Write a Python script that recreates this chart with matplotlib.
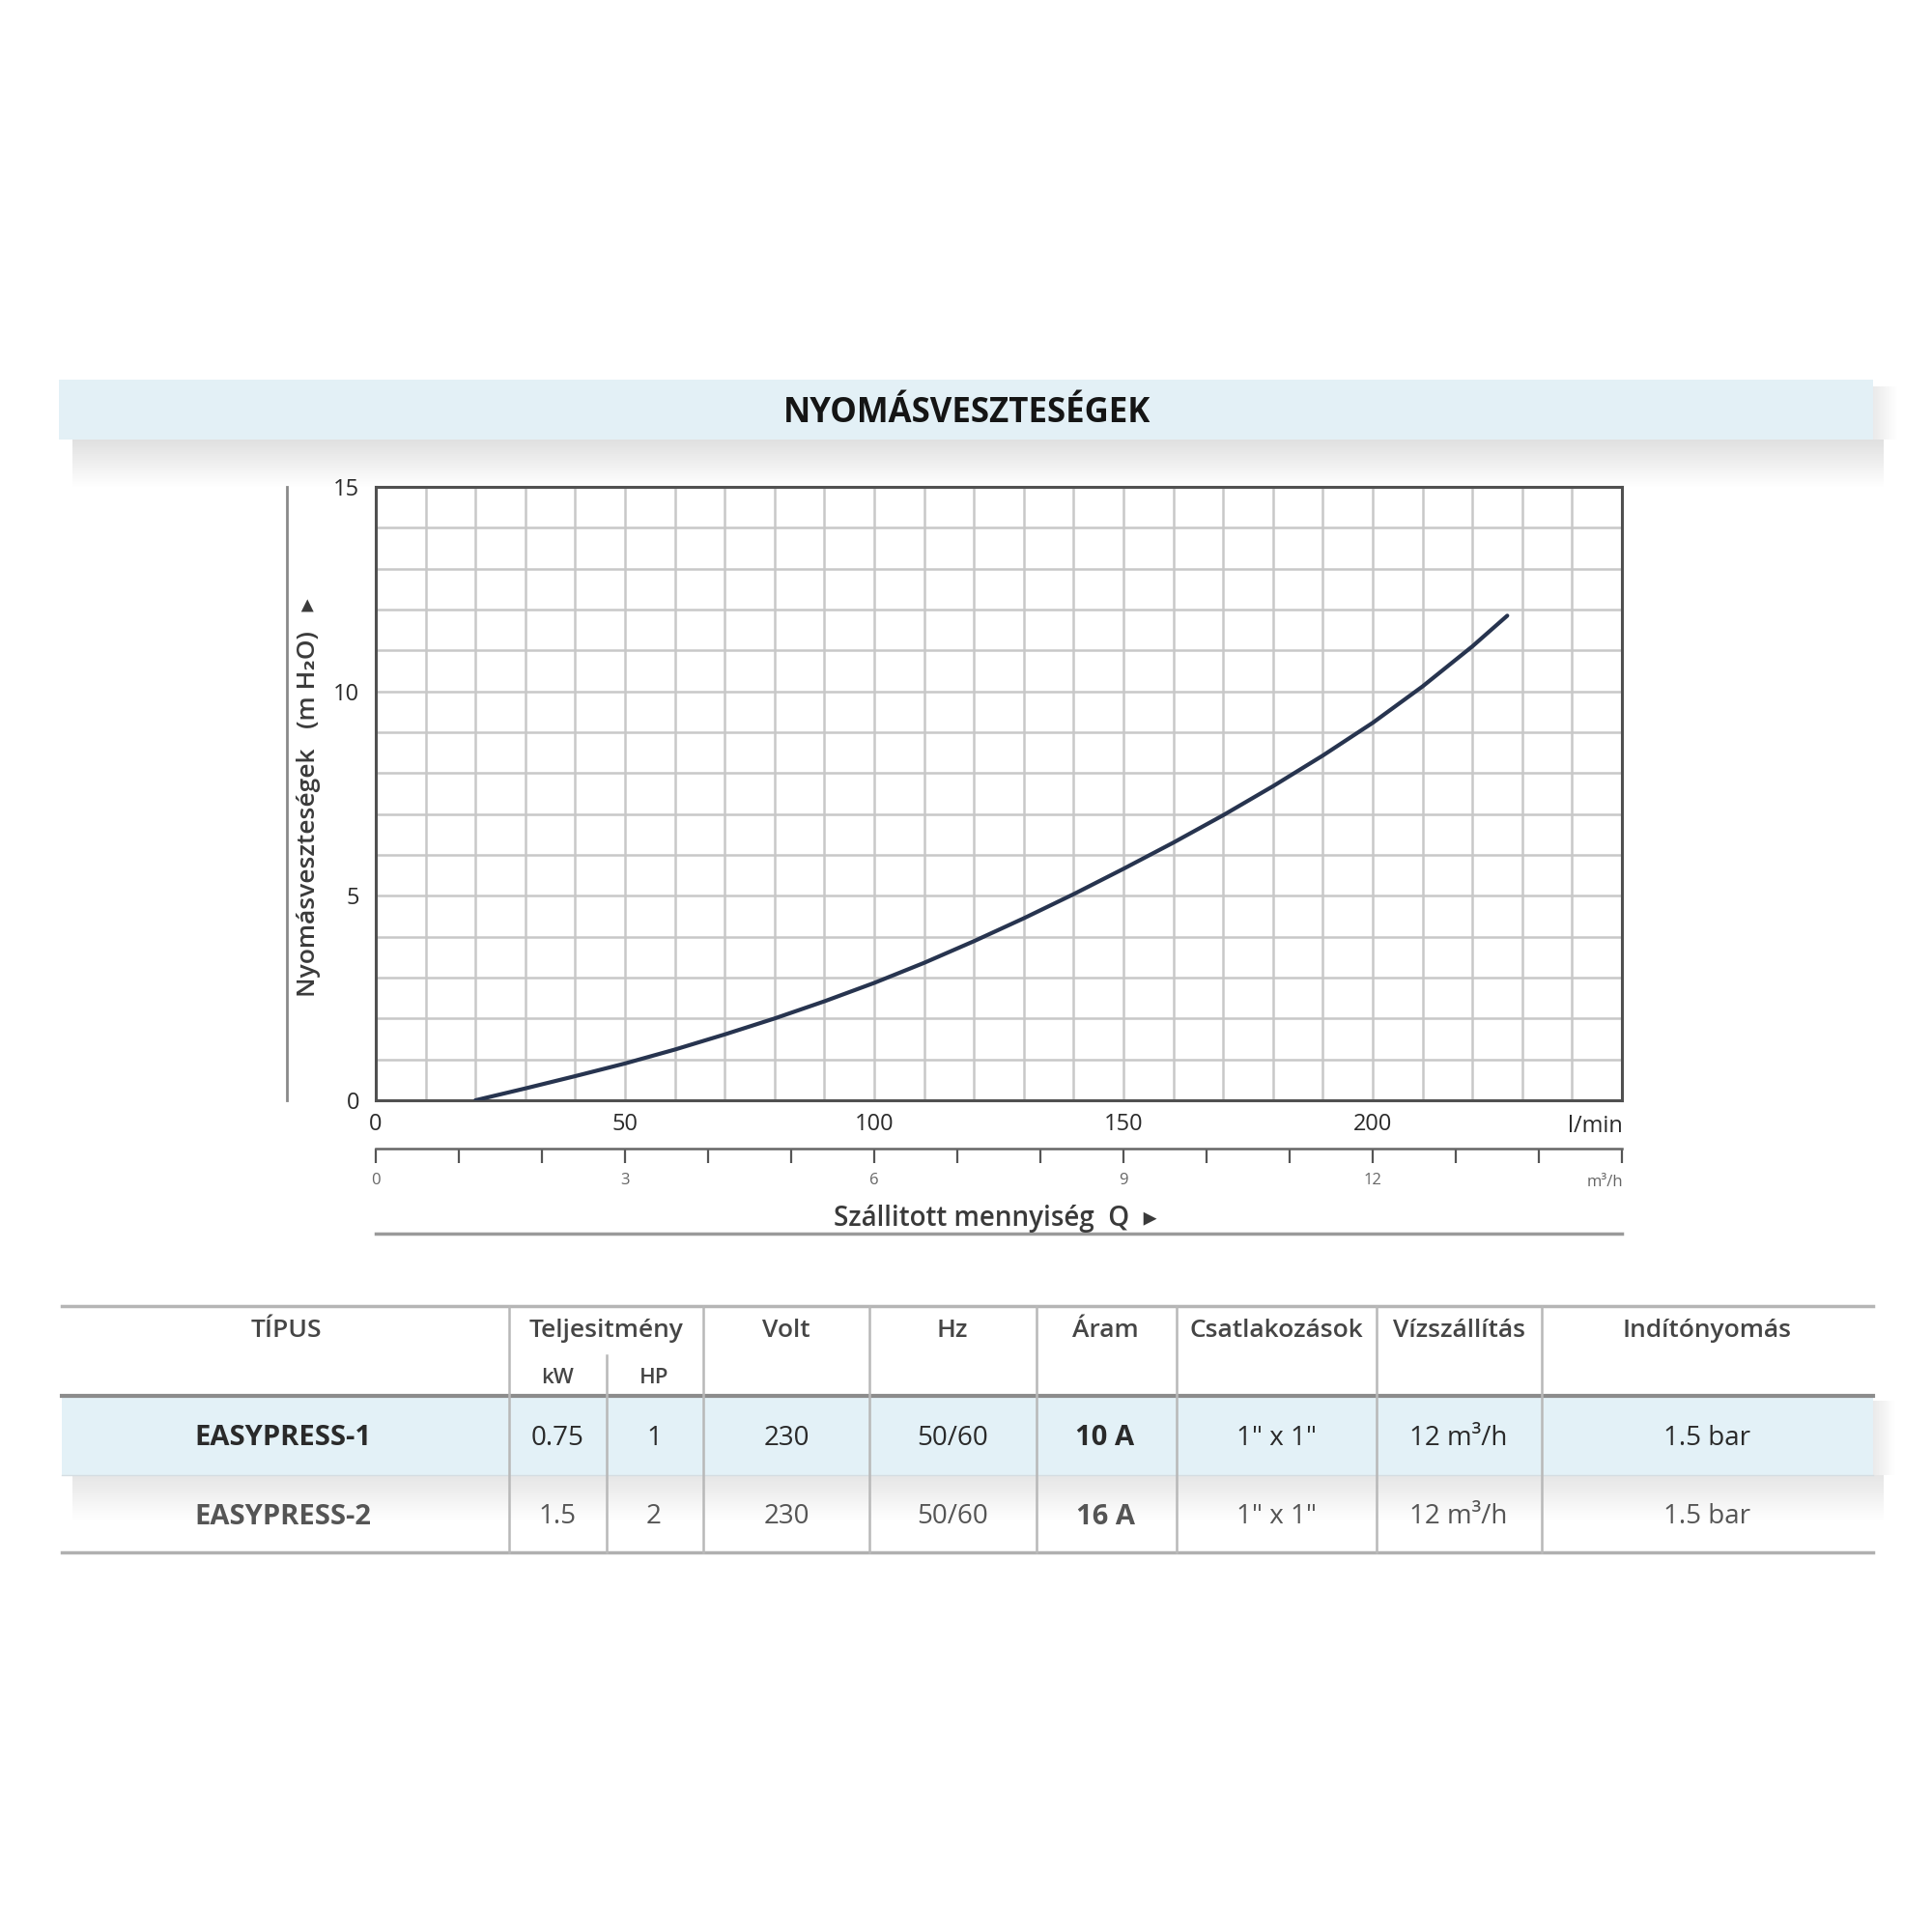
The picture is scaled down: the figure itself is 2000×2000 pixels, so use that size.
import matplotlib.pyplot as plt
import numpy as np
from matplotlib.patches import Rectangle

plt.rcParams['font.family'] = ['Open Sans', 'DejaVu Sans']

# pressure loss curve (l/min -> m H2O)
flow_lmin = [20, 30, 40, 50, 60, 70, 80, 90, 100, 110, 120, 130, 140,
             150, 160, 170, 180, 190, 200, 210, 220, 227]
loss_m = [0, 0.29, 0.59, 0.90, 1.24, 1.61, 2.00, 2.42, 2.87, 3.36, 3.89,
          4.45, 5.04, 5.66, 6.30, 6.97, 7.68, 8.43, 9.23, 10.12, 11.1, 11.85]

x_ticks = [0, 50, 100, 150, 200]
y_ticks = [0, 5, 10, 15]
m3h_ticks = [0, 3, 6, 9, 12]

# table
col_heads = ['TÍPUS', 'Teljesitmény', 'Volt', 'Hz', 'Áram',
             'Csatlakozások', 'Vízszállítás', 'Indítónyomás']
sub_heads = ['kW', 'HP']
models = ['EASYPRESS-1', 'EASYPRESS-2']
power_kw = ['0.75', '1.5']
power_hp = ['1', '2']
volt = ['230', '230']
hz = ['50/60', '50/60']
current = ['10 A', '16 A']
connections = ['1" x 1"', '1" x 1"']
water_flow = ['12 m³/h', '12 m³/h']
start_pressure = ['1.5 bar', '1.5 bar']

fig = plt.figure(figsize=(20, 20), dpi=100)
fig.patch.set_facecolor('white')

# background layer in pixel coords for the banner, table and decorations
bg = fig.add_axes([0, 0, 1, 1], zorder=0)
bg.set_xlim(0, 2000)
bg.set_ylim(2000, 0)
bg.axis('off')


def shadow(x0, x1, y0, y1, vertical=True, strength=0.22):
    n = 64
    g = np.linspace(strength, 0, n)
    img = np.zeros((n, 2, 4)) if vertical else np.zeros((2, n, 4))
    img[..., :3] = 0.45
    if vertical:
        img[..., 3] = g[:, None]
    else:
        img[..., 3] = g[None, :]
    bg.imshow(img, extent=[x0, x1, y1, y0], aspect='auto', zorder=1,
              interpolation='bilinear')


# title banner
shadow(75, 1950, 455, 505, strength=0.22)
shadow(1939, 1965, 400, 455, vertical=False, strength=0.15)
bg.add_patch(Rectangle((61, 393), 1878, 62, fc='#e3f0f6', ec='none', zorder=2))
bg.text(1001, 428, 'NYOMÁSVESZTESÉGEK', ha='center', va='center',
        fontsize=25, fontweight='bold', color='#151515', zorder=3)

# main chart
ax = fig.add_axes([389 / 2000, 1 - 1139 / 2000, 1290 / 2000, 635 / 2000], zorder=2)
ax.set_xlim(0, 250)
ax.set_ylim(0, 15)
ax.set_xticks(x_ticks)
ax.set_yticks(y_ticks)
ax.set_xticks(np.arange(0, 251, 10), minor=True)
ax.set_yticks(np.arange(0, 16, 1), minor=True)
ax.grid(which='both', color='#c8c8c8', lw=1.8, zorder=0)
ax.set_axisbelow(True)
ax.tick_params(which='both', length=0, labelsize=17, labelcolor='#2a2a2a')
ax.tick_params(axis='x', pad=9)
ax.tick_params(axis='y', pad=12)
for s in ax.spines.values():
    s.set_color('#505050')
    s.set_linewidth(2.2)
ax.plot(flow_lmin, loss_m, color='#27344f', lw=3, solid_capstyle='round',
        solid_joinstyle='round', zorder=3)

# second flow scale in m3/h
sec = ax.secondary_xaxis(-0.0787, functions=(lambda q: q * 0.06, lambda m: m / 0.06))
sec.set_xticks(m3h_ticks + [15])
sec.set_xticklabels([str(t) for t in m3h_ticks] + [''])
sec.set_xticks(np.arange(0, 16, 1), minor=True)
sec.tick_params(which='both', direction='out', length=11, width=1.6, color='#555555',
                labelsize=12, labelcolor='#666666', pad=7)
sec.spines['bottom'].set_color('#666666')
sec.spines['bottom'].set_linewidth(1.8)

bg.text(1680, 1166, 'l/min', ha='right', va='center', fontsize=17, color='#2a2a2a')
bg.text(1680, 1224, 'm³/h', ha='right', va='center', fontsize=12, color='#666666')
bg.text(1030, 1261, 'Szállitott mennyiség  Q  ▸', ha='center', va='center',
        fontsize=20, fontweight='semibold', color='#3a3a3a')
bg.plot([389, 1679], [1277, 1277], color='#9a9a9a', lw=2.5)

bg.text(320, 826, 'Nyomásveszteségek   (m H₂O)   ▸', rotation=90, ha='center',
        va='center', fontsize=19, fontweight='semibold', color='#3a3a3a')
bg.plot([297, 297], [504, 1139], color='#8a8a8a', lw=2)

# table
head_x = [296, 628, 814, 986, 1144, 1321, 1510, 1767]
sub_x = [577, 677]
col_lines = [527, 728, 900, 1073, 1218, 1425, 1596]
row_y = [1489, 1570]

shadow(75, 1950, 1527, 1575, strength=0.18)
shadow(1939, 1962, 1450, 1527, vertical=False, strength=0.15)
bg.add_patch(Rectangle((64, 1445), 1875, 82, fc='#e3f1f7', ec='none', zorder=2))

bg.plot([64, 1939], [1352, 1352], color='#b5b5b5', lw=2.5, zorder=4)
bg.plot([64, 1939], [1445, 1445], color='#8c8c8c', lw=3, zorder=4)
bg.plot([64, 1939], [1527, 1527], color='#d5dde2', lw=1, zorder=4)
bg.plot([64, 1939], [1607, 1607], color='#b0b0b0', lw=2.5, zorder=4)
for cx in col_lines:
    bg.plot([cx, cx], [1352, 1607], color='#b8b8b8', lw=1.8, zorder=4)
bg.plot([628, 628], [1403, 1607], color='#b8b8b8', lw=1.8, zorder=4)

for txt, hx in zip(col_heads, head_x):
    bg.text(hx, 1378, txt, ha='center', va='center', fontsize=19,
            fontweight='semibold', color='#454545', zorder=5)
for txt, hx in zip(sub_heads, sub_x):
    bg.text(hx, 1426, txt, ha='center', va='center', fontsize=16,
            fontweight='semibold', color='#454545', zorder=5)

row_cols = [models, power_kw, power_hp, volt, hz, current, connections,
            water_flow, start_pressure]
row_x = [293, 577, 677, 814, 986, 1144, 1321, 1510, 1767]
bold_cols = {0, 5}
for i, ry in enumerate(row_y):
    col = '#2a2a2a' if i == 0 else '#555555'
    for j, (vals, rx) in enumerate(zip(row_cols, row_x)):
        bg.text(rx, ry, vals[i], ha='center', va='center',
                fontsize=21 if j in bold_cols else 20,
                fontweight='bold' if j in bold_cols else 'normal',
                color=col, zorder=5)

fig.savefig('out.png', dpi=100)
